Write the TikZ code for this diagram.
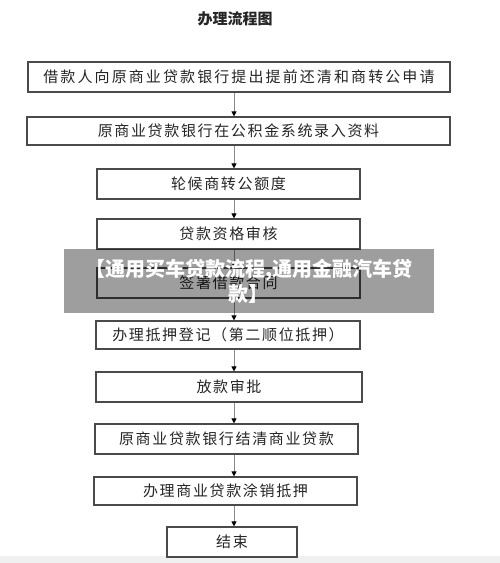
\documentclass[tikz,border=0pt]{standalone}
\usepackage{fontspec}
\setmainfont{Noto Sans CJK SC}
\newfontfamily\cjk{Noto Sans CJK SC}
\newfontfamily\cjkwide[LetterSpace=14]{Noto Sans CJK SC}
\newfontfamily\cjkmid[LetterSpace=11]{Noto Sans CJK SC}
\usetikzlibrary{arrows.meta}
\definecolor{boxline}{HTML}{4A4A4A}
\definecolor{arrline}{HTML}{8A8A8A}
\tikzset{
  stepbox/.style={draw=boxline, line width=1.2pt, fill=white, inner sep=0pt,
    minimum height=30pt, font=\cjkmid\fontsize{15}{15}\selectfont, text=black!85},
  arr/.style={draw=arrline, line width=1pt, -{Triangle[length=5pt,width=5pt,fill=black,color=black]}}
}
\begin{document}
\begin{tikzpicture}[x=1pt,y=-1pt]
\useasboundingbox (0,0) rectangle (500,563);
\fill[white] (0,0) rectangle (500,563);
\fill[black!6] (0,556) rectangle (500,563);
\node[font=\cjk\bfseries\fontsize{15}{15}\selectfont, text=black!85] (title) at (235,19) {办理流程图};
\node[stepbox, minimum width=422pt, font=\cjkwide\fontsize{15}{15}\selectfont] (b1) at (239,77) {借款人向原商业贷款银行提出提前还清和商转公申请};
\node[stepbox, minimum width=423pt, minimum height=28pt] (b2) at (238.5,131) {原商业贷款银行在公积金系统录入资料};
\node[stepbox, minimum width=263pt] (b3) at (228.5,184) {轮候商转公额度};
\node[stepbox, minimum width=263pt] (b4) at (228.5,234) {贷款资格审核};
\node[stepbox, minimum width=263pt] (b5) at (228.5,283) {签署借款合同};
\node[stepbox, minimum width=264pt, minimum height=28pt] (b6) at (228,335) {办理抵押登记（第二顺位抵押）};
\node[stepbox, minimum width=266pt] (b7) at (229,387) {放款审批};
\node[stepbox, minimum width=263pt] (b8) at (226.5,439) {原商业贷款银行结清商业贷款};
\node[stepbox, minimum width=263pt, minimum height=28pt] (b9) at (225.5,491) {办理商业贷款涂销抵押};
\node[stepbox, minimum width=130pt] (b10) at (232,542) {结束};
\foreach \a/\b in {b1/b2,b2/b3,b3/b4,b4/b5,b5/b6,b6/b7,b7/b8,b8/b9,b9/b10}{
  \draw[arr] (\a.south -| 234,0) -- (\b.north -| 234,0);
}
\fill[black, opacity=0.38] (64,249) rectangle (434,313);
\node[font=\cjk\bfseries\fontsize{20}{25}\selectfont, text=white, align=center, text width=360pt] (ov) at (249,281) {【通用买车贷款流程,通用金融汽车贷\\款】};
\end{tikzpicture}
\end{document}
